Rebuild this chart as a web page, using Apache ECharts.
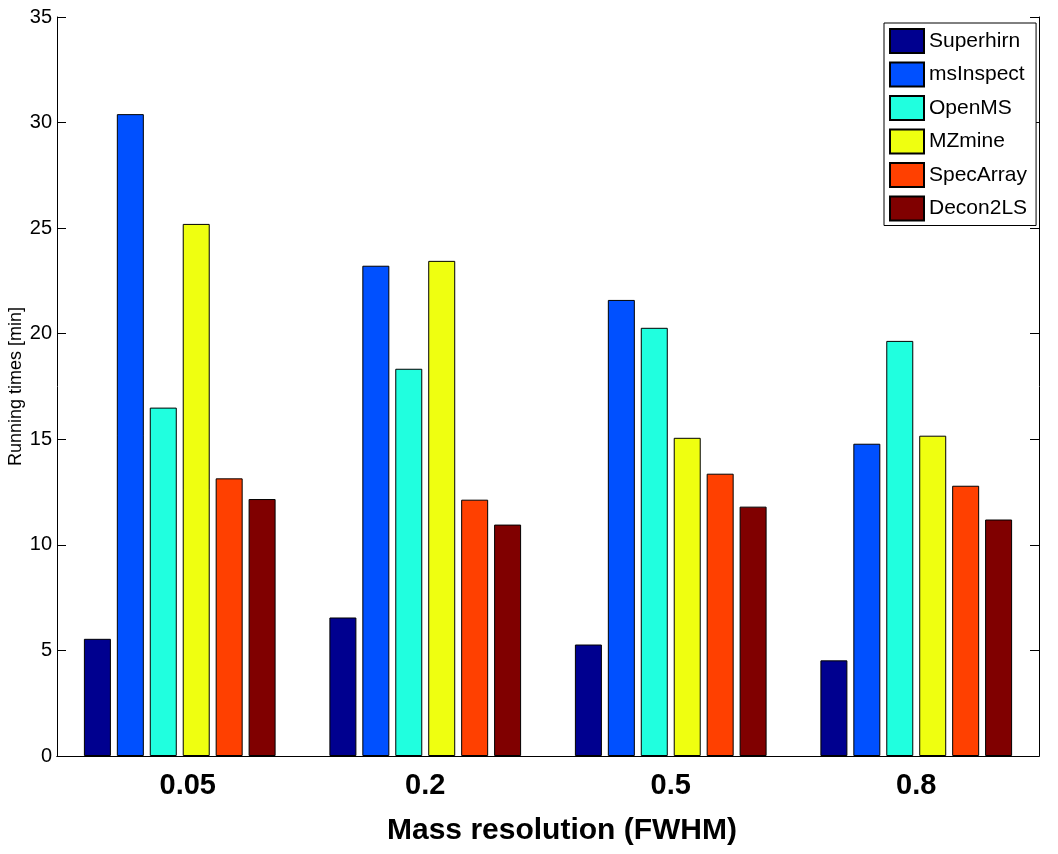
<!DOCTYPE html>
<html>
<head>
<meta charset="utf-8">
<script src="https://cdn.jsdelivr.net/npm/echarts@6/dist/echarts.min.js"></script>
<style>
html,body{margin:0;padding:0;background:#fff;}
#chart{width:1058px;height:854px;}
</style>
</head>
<body>
<div id="chart"></div>
<script>
const categories = ['0.05', '0.2', '0.5', '0.8'];
const seriesNames = ['Superhirn', 'msInspect', 'OpenMS', 'MZmine', 'SpecArray', 'Decon2LS'];
const superhirn = [5.55, 6.56, 5.28, 4.53];
const msInspect = [30.4, 23.22, 21.6, 14.79];
const openMS = [16.5, 18.34, 20.28, 19.66];
const mzmine = [25.2, 23.45, 15.07, 15.17];
const specArray = [13.15, 12.14, 13.37, 12.8];
const decon2LS = [12.17, 10.96, 11.81, 11.2];
const colors = ['#00008F', '#0050FF', '#20FFDF', '#EFFF10', '#FF4000', '#800000'];
const yTicks = { min: 0, max: 35, interval: 5 };

const seriesData = [superhirn, msInspect, openMS, mzmine, specArray, decon2LS];
const font = 'Liberation Sans, Arial, Helvetica, sans-serif';

// the first tick label in the original sits slightly right of its tick
const xCategoryData = categories.map((c, i) =>
  i === 0 ? { value: c, textStyle: { padding: [0, 0, 0, 16] } } : c);

const chart = echarts.init(document.getElementById('chart'), null, { renderer: 'canvas' });
chart.setOption({
  backgroundColor: '#ffffff',
  animation: false,
  color: colors,
  grid: { left: 57, right: 19, top: 17, bottom: 98, containLabel: false, outerBoundsMode: 'none' },
  legend: {
    orient: 'vertical',
    left: 884,
    top: 23,
    padding: [5, 9, 4, 5],
    itemWidth: 34,
    itemHeight: 24,
    itemGap: 7.5,
    icon: 'rect',
    borderColor: '#000',
    borderWidth: 1,
    backgroundColor: '#fff',
    textStyle: { fontFamily: font, fontSize: 21, color: '#000' },
    data: seriesNames
  },
  xAxis: [
    {
      type: 'category',
      data: xCategoryData,
      position: 'bottom',
      name: 'Mass resolution (FWHM)',
      nameLocation: 'middle',
      nameGap: 60,
      nameMoveOverlap: false,
      nameTextStyle: { fontFamily: font, fontSize: 30, fontWeight: 'bold', color: '#000', padding: [0, 0, 0, 28] },
      axisLine: { lineStyle: { color: '#000', width: 1 } },
      axisTick: { inside: true, alignWithLabel: true, length: 9, lineStyle: { color: '#000' } },
      axisLabel: { fontFamily: font, fontSize: 29, fontWeight: 'bold', color: '#000', margin: 15 },
      splitLine: { show: false }
    },
    {
      type: 'category',
      data: categories,
      position: 'top',
      axisLine: { lineStyle: { color: '#000', width: 1 } },
      axisTick: { inside: true, alignWithLabel: true, length: 9, lineStyle: { color: '#000' } },
      axisLabel: { show: false },
      splitLine: { show: false }
    }
  ],
  yAxis: [
    {
      type: 'value',
      min: yTicks.min, max: yTicks.max, interval: yTicks.interval,
      position: 'left',
      name: 'Running times [min]',
      nameLocation: 'middle',
      nameGap: 32,
      nameMoveOverlap: false,
      nameTextStyle: { fontFamily: font, fontSize: 18, color: '#000' },
      axisLine: { show: true, lineStyle: { color: '#000', width: 1 } },
      axisTick: { show: true, inside: true, length: 9, lineStyle: { color: '#000' } },
      axisLabel: { fontFamily: font, fontSize: 20, color: '#000', margin: 5 },
      splitLine: { show: false }
    },
    {
      type: 'value',
      min: yTicks.min, max: yTicks.max, interval: yTicks.interval,
      position: 'right',
      axisLine: { show: true, lineStyle: { color: '#000', width: 1 } },
      axisTick: { show: true, inside: true, length: 9, lineStyle: { color: '#000' } },
      axisLabel: { show: false },
      splitLine: { show: false }
    }
  ],
  series: seriesNames.map((name, i) => ({
    name: name,
    type: 'bar',
    xAxisIndex: 0,
    yAxisIndex: 0,
    data: seriesData[i],
    barWidth: 27,
    barGap: '22%',
    itemStyle: { color: colors[i], borderColor: '#000', borderWidth: 1 },
    emphasis: { disabled: true }
  }))
});
</script>
</body>
</html>
